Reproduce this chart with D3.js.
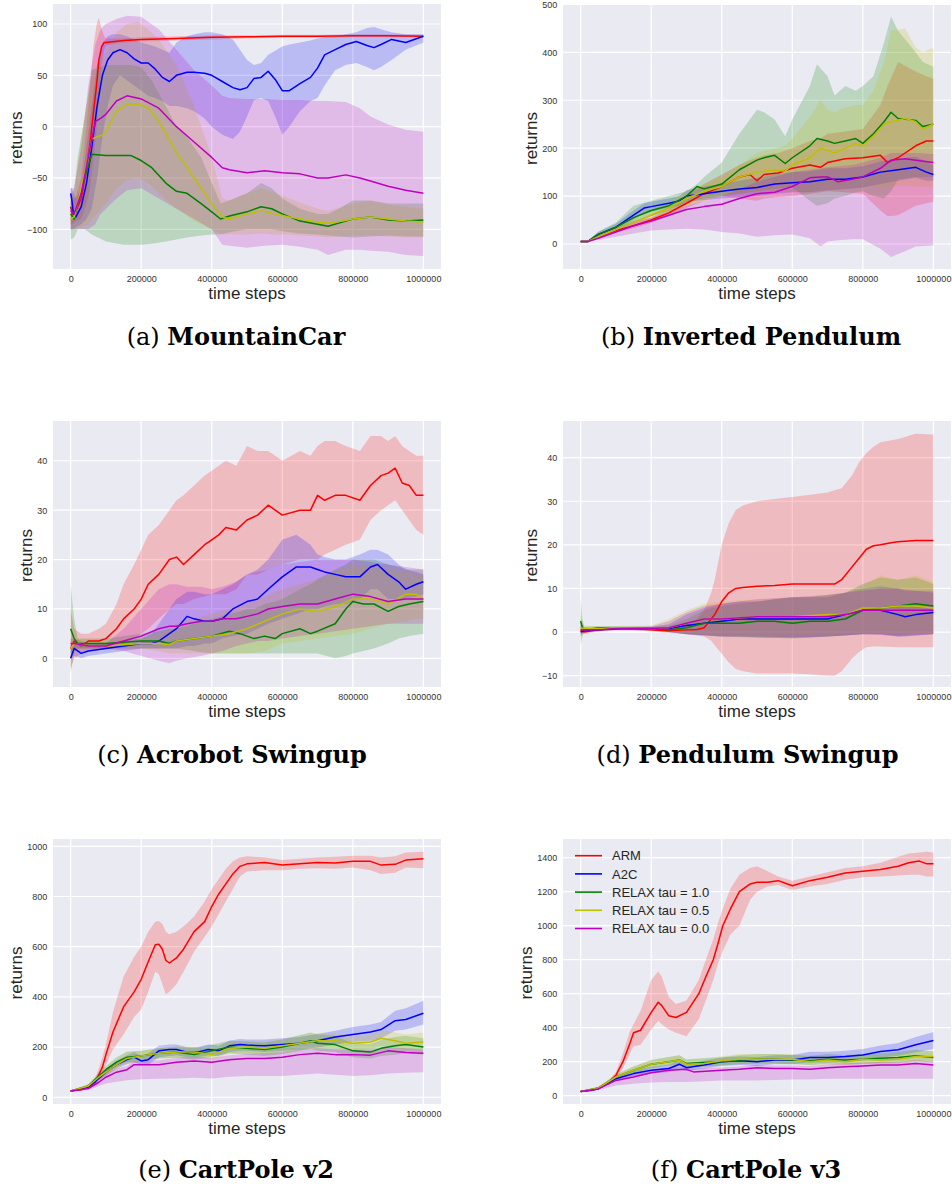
<!DOCTYPE html>
<html><head><meta charset="utf-8">
<script src="https://cdn.jsdelivr.net/npm/d3@7"></script>
<style>body{margin:0;background:#fff}svg{display:block}</style>
</head><body>
<svg id="c" width="952" height="1188"></svg>
<script>
// ---------- labels ----------
const seriesNames = ["ARM", "A2C", "RELAX tau = 1.0", "RELAX tau = 0.5", "RELAX tau = 0.0"];
const xTicks = [0, 200000, 400000, 600000, 800000, 1000000];
const captionLetters = ["(a) ", "(b) ", "(c) ", "(d) ", "(e) ", "(f) "];
const captionTitles = ["MountainCar", "Inverted Pendulum", "Acrobot Swingup", "Pendulum Swingup", "CartPole v2", "CartPole v3"];
const yTicksA = [-100, -50, 0, 50, 100];
const yTicksB = [0, 100, 200, 300, 400, 500];
const yTicksC = [0, 10, 20, 30, 40];
const yTicksD = [-10, 0, 10, 20, 30, 40];
const yTicksE = [0, 200, 400, 600, 800, 1000];
const yTicksF = [0, 200, 400, 600, 800, 1000, 1200, 1400];

// ---------- data: [time steps (thousands), mean, lower, upper] ----------
// (a) MountainCar
const mcARM = [[0,-78,-95,-65],[5,-85,-95,-72],[15,-82,-92,-68],[30,-70,-90,-50],[45,-40,-75,0],[55,-16,-60,40],[65,15,-30,80],[74,42,0,100],[80,65,30,106],[88,78,60,95],[95,82,75,88],[100,82,79,86],[150,84,82,86],[200,85,83,87],[300,86,84,88],[400,87,85,89],[500,87.5,86,89],[600,88,86.5,89.5],[700,88,86.5,89.5],[800,88.5,87,90],[900,88.5,87,90],[1000,88,87,89.5]];
const mcA2C = [[0,-65,-100,-60],[3,-70,-100,-60],[8,-85,-100,-65],[15,-88,-98,-70],[30,-78,-95,-60],[45,-55,-90,-20],[60,-20,-80,20],[75,20,-50,60],[90,50,-10,80],[105,65,20,88],[120,72,40,90],[140,75,50,90],[160,72,45,88],[180,66,40,85],[200,62,35,82],[220,62,30,80],[240,56,28,78],[260,48,25,75],[280,44,20,72],[300,50,20,82],[330,53,18,88],[350,53,15,90],[380,52,8,92],[400,50,0,92],[430,44,-8,90],[460,38,-12,85],[480,36,-5,75],[500,38,10,65],[520,47,26,60],[540,48,28,62],[560,54,25,70],[580,46,10,74],[600,35,-8,78],[620,35,0,80],[650,42,15,82],[680,48,25,84],[700,57,28,86],[720,70,40,87],[750,75,55,88],[780,80,60,90],[810,83,62,92],[840,79,58,96],[860,77,55,97],[880,80,58,95],[910,85,65,92],[950,82,75,90],[1000,88,82,90]];
const mcR10 = [[0,-85,-110,-70],[10,-90,-108,-60],[20,-75,-100,-30],[40,-50,-100,10],[60,-27,-105,55],[100,-28,-112,60],[150,-28,-115,60],[170,-28,-115,60],[200,-33,-115,58],[230,-40,-114,45],[270,-55,-112,20],[300,-63,-110,0],[330,-65,-108,-10],[370,-75,-106,-30],[400,-83,-105,-55],[425,-90,-105,-75],[450,-87,-103,-72],[500,-83,-100,-65],[540,-78,-100,-55],[570,-80,-100,-60],[600,-85,-102,-70],[650,-92,-104,-80],[700,-95,-105,-85],[730,-97,-106,-85],[760,-94,-107,-80],[800,-90,-108,-72],[850,-88,-107,-72],[900,-91,-106,-75],[950,-92,-107,-75],[1000,-91,-107,-75]];
const mcR05 = [[0,-90,-100,-75],[10,-88,-100,-65],[30,-60,-98,-10],[50,-30,-95,30],[60,-12,-90,45],[75,-10,-85,60],[90,-8,-78,68],[100,-5,-75,72],[130,15,-60,92],[160,22,-52,100],[190,22,-50,102],[220,18,-55,95],[250,5,-65,85],[300,-25,-80,60],[350,-50,-92,20],[400,-75,-100,-30],[430,-88,-105,-70],[450,-90,-105,-72],[500,-85,-105,-65],[540,-82,-104,-60],[580,-85,-105,-65],[620,-88,-105,-70],[700,-93,-107,-80],[730,-94,-108,-82],[770,-92,-107,-78],[800,-90,-106,-75],[850,-88,-106,-72],[900,-90,-107,-76],[950,-92,-108,-78],[1000,-93,-108,-80]];
const mcR00 = [[0,-82,-100,-60],[10,-85,-100,-60],[30,-65,-100,-20],[50,-30,-100,40],[70,5,-95,80],[85,8,-85,95],[100,12,-80,100],[130,25,-70,105],[160,30,-62,108],[200,27,-60,107],[250,18,-70,95],[300,0,-80,75],[350,-15,-90,55],[400,-30,-100,40],[430,-40,-115,30],[450,-42,-116,28],[500,-45,-118,27],[550,-43,-116,27],[600,-45,-115,26],[650,-46,-117,26],[700,-50,-120,25],[730,-50,-125,25],[780,-47,-120,24],[820,-50,-120,18],[850,-53,-121,10],[900,-58,-122,2],[950,-62,-125,-3],[1000,-65,-126,-5]];

// (b) Inverted Pendulum
const ipARM = [[0,5,4,6],[20,5,4,6],[50,15,12,18],[100,28,24,32],[150,38,33,44],[200,50,44,56],[250,65,58,75],[300,85,75,100],[350,105,90,125],[400,120,100,145],[450,140,95,165],[480,145,92,175],[500,132,90,180],[520,145,95,185],[560,148,98,190],[600,158,100,200],[650,165,105,215],[680,160,108,220],[700,170,110,230],[750,178,108,235],[800,180,105,240],[850,185,70,290],[870,170,58,330],[900,180,60,380],[950,205,80,360],[980,215,85,350],[1000,215,88,345]];
const ipA2C = [[0,5,4,6],[20,5,4,7],[50,20,15,25],[100,35,28,42],[150,60,50,70],[180,75,65,85],[200,78,68,88],[250,85,75,95],[280,90,80,100],[300,100,88,112],[350,105,92,120],[400,110,95,125],[450,115,98,132],[500,118,100,138],[550,125,105,145],[600,128,108,150],[650,130,108,152],[700,135,112,158],[750,135,115,158],[800,140,118,162],[850,150,125,172],[900,155,132,178],[950,160,138,182],[980,150,132,172],[1000,145,132,165]];
const ipR10 = [[0,5,4,6],[20,5,4,7],[50,20,15,26],[100,35,28,45],[150,55,45,80],[200,70,58,90],[250,80,68,100],[300,100,82,110],[330,120,92,125],[350,115,95,140],[400,125,100,170],[450,155,105,230],[500,175,110,280],[520,180,112,275],[550,185,115,260],[580,168,118,225],[600,180,118,260],[650,205,90,330],[670,220,80,375],[700,215,85,350],[720,210,95,310],[750,215,100,330],[780,220,108,320],[800,210,110,330],[830,230,100,350],[860,255,95,420],[880,275,110,475],[900,262,135,445],[950,258,140,400],[970,245,140,380],[1000,250,140,370]];
const ipR05 = [[0,5,4,6],[20,5,4,7],[50,15,12,20],[100,30,25,36],[150,45,38,55],[200,60,50,70],[250,75,62,88],[300,95,80,110],[350,110,90,125],[400,120,100,140],[450,140,105,165],[500,150,110,190],[550,155,110,200],[580,152,110,205],[600,165,110,220],[650,180,110,265],[680,200,110,300],[700,195,112,280],[720,190,115,275],[750,200,115,285],[780,210,118,290],[800,205,120,290],[830,225,120,320],[860,250,120,380],[880,255,120,445],[920,262,122,450],[950,255,120,410],[970,240,120,400],[1000,250,120,410]];
const ipR00 = [[0,5,4,6],[20,5,4,6],[50,12,9,15],[100,25,15,32],[150,38,22,48],[200,48,28,55],[250,60,30,68],[300,72,32,80],[350,78,30,90],[400,83,25,100],[450,95,22,115],[500,105,15,130],[550,108,18,140],[600,120,20,150],[650,138,12,155],[680,140,-5,158],[700,140,5,160],[730,130,8,162],[770,135,10,165],[800,140,10,170],[850,158,-10,180],[880,175,-27,190],[920,178,-15,190],[950,175,-5,190],[1000,170,-3,188]];

// (c) Acrobot Swingup
const acARM = [[0,2,-2,10],[10,3.5,0,6],[30,2.5,1,5],[50,3.5,1.5,5],[80,3.5,2,6],[100,4,2,7],[130,6,2.5,11],[150,8,3,15],[180,10,4,19],[200,12,5,22],[220,15,6,25],[250,17,8,27],[280,20,10,30],[300,20.5,11,32],[320,19,11,33],[350,21,12,35],[380,23,12.5,37],[400,24,13,38],[420,25,13,39],[440,26.5,13,40],[470,26,14,39],[500,28,17,43],[530,29,17,42],[560,31,18,42],[580,30,18.5,41],[600,29,19,40],[650,30,20,42],[680,30,20,41],[700,33,20,43],[720,32,21,44],[750,33,22,44],[780,33,23,43],[820,32,24,42],[850,35,28,45],[880,37,30,45],[900,37.5,31,44],[920,38.5,32,45],[940,35.5,30,43],[960,35,28,42],[980,33,26,41],[1000,33,25,41]];
const acA2C = [[0,0,0,3],[10,2,0.5,3],[30,1,0,2.5],[50,1.5,0.5,3],[100,2,1,3],[150,2.5,1.5,3.5],[200,3,2,4],[230,3,2,5],[250,3.5,2,7],[280,5,2,10],[300,6,2,12],[330,8.5,2.5,13.5],[350,8,2.5,13.5],[380,7.5,3,13],[400,7.5,3,13],[430,8,4,14],[460,10,4.5,15],[500,11.5,5,17],[530,12,6,18],[560,14,7,20],[600,16.5,8,24],[640,18.5,9,25],[680,18.5,10,23],[700,18,10,21],[720,17.5,10.5,20.5],[750,17,11,20],[780,16.5,11,20],[820,16.5,12,21],[850,18.5,14,22],[870,19,14,22],[900,17,12,21],[930,15.5,12,19],[950,14,12,18],[980,15,12.5,17.5],[1000,15.5,13,17]];
const acR10 = [[0,6,-3,15],[10,4,1,8],[20,3,2,4],[50,3,2,4],[100,3,2,4],[200,3.5,2,5],[250,3.5,2,5.5],[280,3,2,6],[300,3.5,2,6],[350,4,1.5,7],[400,4.5,1,8],[450,5.5,1,9],[480,5,1,9.5],[500,4.5,1,10],[520,4,1,10],[550,4.5,1,11],[580,4,1,11.5],[600,5,1,12],[650,6,1,14],[680,5,1,15],[700,5.5,1,16],[750,7,0,18],[780,10,0.5,19],[800,11.5,1,20],[830,11,1.5,20],[860,11,2,20],[900,9.5,3,19],[930,10.5,4,18.5],[960,11,4.5,18],[1000,11.5,5,18]];
const acR05 = [[0,2,0,4],[10,3,1,4],[50,2.5,2,3.5],[100,2.5,2,3.5],[200,3,2,4],[250,3,1.5,5],[280,2.8,1,6],[300,3.5,1,7],[350,4,1,8],[400,4.5,1,9],[450,5,1,10],[500,6,1,11],[550,7.5,1.5,12.5],[600,9,3,14],[650,10,3.5,15],[700,9.5,4,16],[750,10.5,4.5,17.5],[800,12,5,19],[850,12,6,18.5],[900,11,7,18],[950,13,7.5,17.5],[980,13,8,17],[1000,12,8,17]];
const acR00 = [[0,3,1,4],[10,3,2,4],[50,2.5,2,3],[100,2.5,2,3],[150,3.5,1.5,6],[200,4.5,0.5,10],[250,6,-0.5,14],[280,6.5,-1,15],[300,6.5,-0.5,15],[330,7,0,14.5],[370,7.5,0.5,14.5],[400,7.5,1,14],[430,8,1.5,14.5],[470,8,2.5,15.5],[500,8.5,3,17],[530,9,3.5,17.5],[560,10,3.5,18],[600,10.5,4,19],[650,11,4.5,19.5],[700,11,5,20],[750,12,5.5,20],[800,13,6,20],[850,12.5,6.5,19.5],[900,11.5,7,19],[950,12,7,18.5],[1000,12,7,18]];

// (d) Pendulum Swingup
const psARM = [[0,0.5,0,1.5],[10,0,-0.5,1],[50,0.5,0.2,0.8],[100,0.7,0.4,1],[150,0.8,0.5,1.1],[200,0.5,0.2,0.9],[250,0.3,-0.2,1],[300,0.5,-0.5,2],[330,0.6,-0.8,3],[350,1,-1,5],[370,3,-2,9],[380,4,-3,12],[400,7,-5,20],[420,9,-7,25],[440,10,-8.5,28],[460,10.2,-9,29],[500,10.5,-9.5,30],[550,10.7,-9.5,30.5],[600,11,-9.5,31],[650,11,-9.7,31.5],[700,11,-10,32],[720,11,-10,32.5],[740,12,-9,33],[770,15,-6,36],[790,17,-4.5,39],[810,19,-3.5,41],[830,19.8,-3.3,42.5],[850,20,-3.3,43.5],[880,20.5,-3.4,44],[900,20.7,-3.5,44.3],[950,21,-3.5,45.5],[1000,21,-3.5,45.3]];
const psA2C = [[0,0,-1,3],[10,0.3,0,1],[50,0.5,0.2,0.8],[100,0.8,0.5,1.1],[200,0.8,0.4,1.2],[250,0.8,0,1.8],[300,1.5,-0.5,4],[350,2,-0.8,5.5],[400,2.5,-1,6.5],[450,3,-1,7],[500,3,-1.2,7],[550,3,-1.3,7.5],[600,3,-1.3,8],[650,3,-1.2,8],[700,3,-1,8],[750,4,-0.8,9],[800,5,-0.5,10],[850,5,-0.5,10.5],[900,4,-1,10],[920,3.5,-1,9.5],[950,4,-0.8,9.5],[1000,4.5,-0.5,9]];
const psR10 = [[0,2.5,-3,8],[5,1,-1,3],[10,0.5,0,1.2],[50,1,0.6,1.4],[100,1,0.6,1.4],[200,0.8,0.4,1.2],[250,0.5,0,1.5],[300,1,-0.5,3],[350,2,-0.8,5],[400,2,-1,6],[450,2,-1.2,6.5],[500,2.5,-1.3,7],[550,2.5,-1.3,7.5],[600,2,-1.5,8],[650,2.5,-1.3,8],[700,2.5,-1,8.5],[750,3,-0.8,9],[800,5,-0.5,11],[850,5.5,-0.5,12.5],[900,6,-0.8,12],[950,6.5,-0.5,12.5],[1000,6,-0.5,11]];
const psR05 = [[0,1,-1,4],[10,0.8,0,1.5],[50,0.8,0.4,1.2],[100,1,0.6,1.4],[200,0.8,0.3,1.5],[250,1,0,3],[300,2,-0.3,5],[350,3,-0.5,6.5],[400,3,-0.8,7],[500,3.5,-1,7.5],[600,3.5,-1,8],[700,4,-0.8,8.5],[750,4,-0.5,9],[800,5.5,-0.3,10.5],[850,5.5,-0.3,13],[900,6,-0.5,12],[950,6,-0.5,13],[1000,5.5,-0.3,11.5]];
const psR00 = [[0,0.5,-0.5,2],[10,0.5,0,1],[50,0.5,0.2,0.8],[100,0.8,0.5,1.1],[200,0.8,0.3,1.3],[250,1,0,2.5],[300,2,-0.5,4.5],[350,3,-0.7,6],[400,3,-1,6.5],[500,3.5,-1,7.5],[600,3.5,-1.2,8],[700,3.5,-1,8.5],[750,4,-0.8,9],[800,5,-0.5,9.5],[850,5,-0.7,10],[900,5,-1,10],[950,5,-0.8,9.5],[1000,5,-0.5,9.5]];

// (e) CartPole v2
const c2ARM = [[0,25,24,26],[30,30,27,33],[50,45,38,50],[70,60,50,75],[90,120,95,160],[100,170,130,210],[120,260,190,340],[150,360,250,480],[180,420,320,560],[200,470,350,600],[220,540,420,660],[240,608,500,700],[250,610,490,702],[260,590,450,690],[270,545,410,660],[280,535,420,650],[300,555,450,660],[320,590,500,680],[350,660,580,720],[380,700,640,780],[400,760,680,830],[420,810,730,870],[440,850,780,910],[460,890,830,940],[480,920,880,955],[500,930,900,960],[550,935,905,955],[600,925,905,945],[650,930,910,950],[700,935,912,955],[750,933,910,958],[800,940,915,962],[850,940,905,962],[880,925,890,955],[920,928,895,960],[950,945,915,975],[1000,950,912,978]];
const c2A2C = [[0,25,24,26],[50,40,35,45],[80,75,65,85],[100,100,88,115],[130,130,115,145],[160,150,132,168],[180,160,140,180],[200,145,128,165],[220,150,130,175],[250,185,160,205],[280,190,165,210],[300,190,168,210],[330,180,160,200],[360,180,160,200],[390,190,168,210],[420,185,165,205],[450,205,180,225],[480,210,185,232],[500,208,185,230],[550,205,180,230],[600,210,185,235],[650,215,190,240],[700,225,198,252],[750,240,210,265],[800,250,220,280],[850,260,225,290],[880,270,235,300],[920,305,265,345],[950,310,270,355],[1000,335,290,385]];
const c2R10 = [[0,25,24,26],[50,45,38,52],[80,85,72,100],[100,110,95,125],[130,140,120,160],[160,160,140,182],[200,165,145,185],[250,175,155,195],[300,180,158,202],[350,170,150,195],[400,185,162,210],[450,200,175,225],[500,195,170,222],[550,190,165,218],[600,200,172,230],[650,215,185,248],[680,225,192,258],[700,215,185,250],[750,210,180,245],[800,185,160,215],[850,180,155,212],[880,195,165,228],[920,205,170,240],[950,210,175,245],[1000,200,170,235]];
const c2R05 = [[0,25,24,26],[50,45,38,52],[80,80,68,95],[100,100,85,118],[130,130,112,150],[160,155,135,178],[200,165,145,185],[250,175,155,195],[300,180,158,202],[350,180,158,202],[400,170,150,195],[450,195,172,220],[500,200,175,225],[550,195,172,222],[600,205,180,232],[650,215,188,245],[700,225,195,255],[750,225,195,255],[800,215,188,245],[850,220,190,250],[880,235,205,268],[920,225,195,258],[950,215,188,250],[1000,220,190,258]];
const c2R00 = [[0,25,24,26],[50,35,28,42],[80,60,45,72],[100,80,55,95],[130,100,62,115],[160,110,68,125],[180,130,70,145],[200,130,72,145],[250,130,74,148],[300,140,75,158],[350,145,78,162],[400,140,75,158],[450,150,82,168],[500,155,85,172],[550,155,85,175],[600,160,85,180],[650,170,90,190],[700,175,95,195],[750,170,90,190],[800,170,85,190],[850,168,88,188],[900,185,95,200],[950,178,98,195],[1000,175,100,190]];

// (f) CartPole v3
const c3ARM = [[0,25,24,26],[30,30,27,33],[50,45,40,50],[80,80,70,90],[100,120,100,140],[120,200,160,250],[140,310,250,380],[150,370,290,420],[170,385,300,500],[200,490,390,680],[220,550,440,730],[230,530,420,700],[250,470,390,580],[270,460,370,540],[300,490,350,560],[335,600,450,680],[355,700,560,800],[376,800,680,920],[390,900,780,1020],[403,1000,850,1100],[425,1100,950,1220],[450,1200,1000,1300],[480,1245,1150,1340],[500,1255,1200,1350],[530,1255,1230,1320],[560,1265,1240,1290],[600,1235,1210,1265],[650,1265,1230,1290],[700,1285,1245,1315],[750,1310,1270,1340],[800,1320,1285,1350],[850,1330,1290,1370],[900,1350,1295,1405],[930,1370,1300,1425],[960,1380,1300,1430],[980,1365,1290,1435],[1000,1365,1290,1430]];
const c3A2C = [[0,25,24,26],[50,40,36,45],[100,100,88,112],[150,130,115,148],[200,150,130,170],[250,160,138,182],[280,185,160,210],[300,165,145,188],[350,180,158,205],[400,200,175,225],[450,205,180,230],[500,200,175,228],[550,210,185,238],[600,210,185,240],[650,225,195,258],[700,225,195,258],[750,230,200,265],[800,240,205,275],[850,260,225,295],[900,270,235,310],[950,300,255,345],[1000,325,275,375]];
const c3R10 = [[0,25,24,26],[50,45,40,52],[100,110,98,125],[150,150,132,172],[200,185,162,210],[250,200,178,228],[280,210,185,238],[300,190,168,215],[350,195,172,222],[400,200,178,228],[450,210,185,238],[500,215,190,245],[550,215,190,245],[600,210,185,240],[650,205,180,235],[700,215,188,245],[750,210,185,240],[800,215,188,245],[850,220,192,250],[900,225,195,258],[950,235,205,270],[1000,225,195,260]];
const c3R05 = [[0,25,24,26],[50,45,40,52],[100,110,98,125],[150,150,132,172],[200,185,162,210],[250,200,178,228],[280,210,185,238],[300,185,165,210],[350,190,168,215],[400,205,180,232],[450,215,190,245],[500,215,190,245],[600,215,190,245],[650,200,178,228],[700,210,185,240],[750,200,178,228],[800,215,188,245],[850,210,185,240],[900,215,188,248],[950,230,200,265],[1000,230,200,265]];
const c3R00 = [[0,25,24,26],[50,40,32,46],[100,90,60,105],[150,110,70,128],[200,135,78,152],[250,150,80,168],[300,155,80,172],[320,140,82,158],[400,150,90,168],[450,155,90,172],[500,165,90,182],[550,160,92,178],[600,160,95,178],[650,155,95,175],[700,165,100,185],[750,170,100,190],[800,175,100,195],[850,180,100,200],[900,180,100,200],[950,190,100,210],[1000,180,100,200]];

// ---------- styling / layout ----------
const seriesColors = ["#ff0000", "#0000ff", "#008000", "#bfbf00", "#bf00bf"];
const SANS = "'Liberation Sans', Arial, Helvetica, sans-serif";
const SERIF = "'DejaVu Serif', 'Liberation Serif', serif";
const X_DOMAIN = [-50000, 1050000];

const panels = [
  { series: [mcARM, mcA2C, mcR10, mcR05, mcR00], yDomain: [-138.7, 119.5], yTicks: yTicksA, box: [53, 4, 441, 269], ylabX: 21.5, cap: [236, 345] },
  { series: [ipARM, ipA2C, ipR10, ipR05, ipR00], yDomain: [-52.2, 498.8], yTicks: yTicksB, box: [563, 5, 951, 269], ylabX: 536.7, cap: [751, 345] },
  { series: [acARM, acA2C, acR10, acR05, acR00], yDomain: [-5.8, 48.05], yTicks: yTicksC, box: [53, 421, 441, 687], ylabX: 31.5, cap: [232, 763.3] },
  { series: [psARM, psA2C, psR10, psR05, psR00], yDomain: [-12.6, 48.4], yTicks: yTicksD, box: [563, 421, 951, 687], ylabX: 536.7, cap: [747.5, 763.3] },
  { series: [c2ARM, c2A2C, c2R10, c2R05, c2R00], yDomain: [-26.7, 1029], yTicks: yTicksE, box: [53, 839, 441, 1104], ylabX: 21.5, cap: [236, 1177.7] },
  { series: [c3ARM, c3A2C, c3R10, c3R05, c3R00], yDomain: [-48.8, 1510], yTicks: yTicksF, box: [563, 839, 951, 1104], ylabX: 531.7, cap: [746, 1177.7], legend: true }
];

const svg = d3.select("#c");
const defs = svg.append("defs");
const fmt = d3.format("d");

panels.forEach((p, pi) => {
  const [x0, y0, x1, y1] = p.box;
  const x = d3.scaleLinear().domain(X_DOMAIN).range([x0, x1]);
  const y = d3.scaleLinear().domain(p.yDomain).range([y1, y0]);
  const g = svg.append("g");

  g.append("rect").attr("x", x0).attr("y", y0).attr("width", x1 - x0).attr("height", y1 - y0).attr("fill", "#EAEAF2");

  g.append("g").selectAll("line").data(p.yTicks).join("line")
    .attr("x1", x0).attr("x2", x1).attr("y1", d => y(d)).attr("y2", d => y(d))
    .attr("stroke", "#ffffff").attr("stroke-width", 1.2);
  g.append("g").selectAll("line").data(xTicks).join("line")
    .attr("y1", y0).attr("y2", y1).attr("x1", d => x(d)).attr("x2", d => x(d))
    .attr("stroke", "#ffffff").attr("stroke-width", 1.2);

  const clipId = "clip" + pi;
  defs.append("clipPath").attr("id", clipId).append("rect")
    .attr("x", x0).attr("y", y0).attr("width", x1 - x0).attr("height", y1 - y0);
  const plot = g.append("g").attr("clip-path", `url(#${clipId})`);

  const area = d3.area().x(d => x(d[0] * 1000)).y0(d => y(d[2])).y1(d => y(d[3]));
  const line = d3.line().x(d => x(d[0] * 1000)).y(d => y(d[1]));

  p.series.forEach((s, i) => {
    plot.append("path").datum(s).attr("d", area)
      .attr("fill", seriesColors[i]).attr("fill-opacity", 0.2).attr("stroke", "none");
  });
  p.series.forEach((s, i) => {
    plot.append("path").datum(s).attr("d", line)
      .attr("fill", "none").attr("stroke", seriesColors[i]).attr("stroke-width", 1.5)
      .attr("stroke-linejoin", "round");
  });

  const ax = g.append("g").attr("transform", `translate(0,${y1})`)
    .call(d3.axisBottom(x).tickValues(xTicks).tickFormat(fmt).tickSize(0).tickPadding(6.3));
  const ay = g.append("g").attr("transform", `translate(${x0},0)`)
    .call(d3.axisLeft(y).tickValues(p.yTicks).tickFormat(fmt).tickSize(0).tickPadding(5.7));
  [ax, ay].forEach(a => {
    a.select(".domain").remove();
    a.attr("font-family", null).attr("font-size", null);
    a.selectAll("text").attr("font-family", SANS).attr("font-size", 9).attr("fill", "#333");
  });

  g.append("text").attr("x", (x0 + x1) / 2).attr("y", y1 + 29.5)
    .attr("text-anchor", "middle").attr("font-family", SANS).attr("font-size", 17).attr("fill", "#262626")
    .text("time steps");
  g.append("text").attr("transform", `translate(${p.ylabX},${(y0 + y1) / 2 + 1.5}) rotate(-90)`)
    .attr("text-anchor", "middle").attr("font-family", SANS).attr("font-size", 17).attr("fill", "#262626")
    .text("returns");

  const cap = svg.append("text").attr("x", p.cap[0]).attr("y", p.cap[1])
    .attr("text-anchor", "middle").attr("font-family", SERIF).attr("font-size", 24).attr("fill", "#000");
  cap.append("tspan").attr("font-weight", "normal").text(captionLetters[pi]);
  cap.append("tspan").attr("font-weight", "bold").text(captionTitles[pi]);

  if (p.legend) {
    const lg = g.append("g");
    seriesNames.forEach((name, i) => {
      const ly = 855.7 + i * 18.2;
      lg.append("line").attr("x1", 575).attr("x2", 602).attr("y1", ly).attr("y2", ly)
        .attr("stroke", seriesColors[i]).attr("stroke-width", 1.6);
      lg.append("text").attr("x", 612).attr("y", ly + 4.6)
        .attr("font-family", SANS).attr("font-size", 13).attr("fill", "#262626").text(name);
    });
  }
});
</script>
</body></html>
